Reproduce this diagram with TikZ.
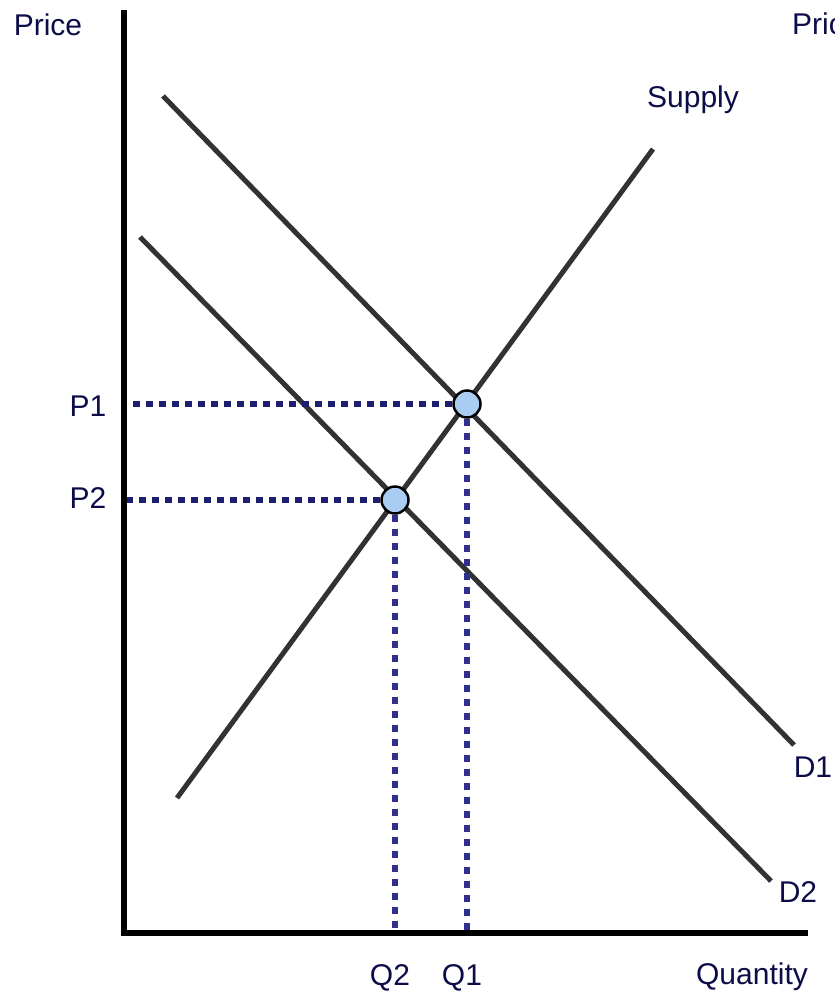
\documentclass[tikz,border=0pt]{standalone}
\usepackage{fontspec}
\setmainfont{Liberation Sans}
\usepackage{tikz}
\definecolor{navytext}{RGB}{12,12,72}
\definecolor{guidenavy}{RGB}{30,30,112}
\definecolor{guideblue}{RGB}{48,48,140}
\definecolor{markblue}{RGB}{168,204,242}
\definecolor{curvegray}{RGB}{50,50,50}

\begin{document}
\begin{tikzpicture}[
    x=1pt, y=-1pt, font=\fontsize{30}{34}\selectfont,
    axis/.style={line width=6pt, color=black},
    curve/.style={line width=5pt, color=curvegray},
    hguide/.style={line width=6pt, color=guidenavy, dash pattern=on 7pt off 6pt},
    vguide/.style={line width=6pt, color=guideblue, dash pattern=on 7pt off 7pt},
    eqpt/.style={circle, draw=black, line width=2.5pt, fill=markblue,
                 minimum size=27pt, inner sep=0pt},
    lbl/.style={anchor=base, text=navytext, inner sep=0pt}
]
\clip (0,0) rectangle (835,996);

\coordinate (top)   at (124, 10);
\coordinate (o)     at (124,933);
\coordinate (right) at (808,933);

% supply and demand
\coordinate (s0)  at (177,798);
\coordinate (s1)  at (653,149);
\coordinate (d1a) at (163, 96);
\coordinate (d1b) at (794,745);
\coordinate (d2a) at (140,237);
\coordinate (d2b) at (771,881);
\draw[curve] (s0) -- (s1);
\draw[curve] (d1a) -- (d1b);
\draw[curve] (d2a) -- (d2b);

\node[eqpt] (e1) at (467,404) {};
\node[eqpt] (e2) at (395,500) {};

\draw[hguide] (e1) -- (e1 -| o);
\draw[hguide] (e2) -- (e2 -| o);
\draw[vguide] (e1) -- (e1 |- o);
\draw[vguide] (e2) -- (e2 |- o);

\draw[axis] (top) -- (o) -- (right);

\node[lbl] (pricel) at (48, 35) {Price};
\node[lbl, anchor=base west] (pricer) at (792, 34) {Price};
\node[lbl] (supl) at (693,107) {Supply};
\node[lbl] (p1)   at ( 88,416) {P1};
\node[lbl] (p2)   at ( 88,508) {P2};
\node[lbl] (q2)   at (390,985) {Q2};
\node[lbl] (q1)   at (462,985) {Q1};
\node[lbl] (qty)  at (752,984) {Quantity};
\node[lbl] (d1)   at (813,777) {D1};
\node[lbl] (d2)   at (798,902) {D2};
\end{tikzpicture}
\end{document}
